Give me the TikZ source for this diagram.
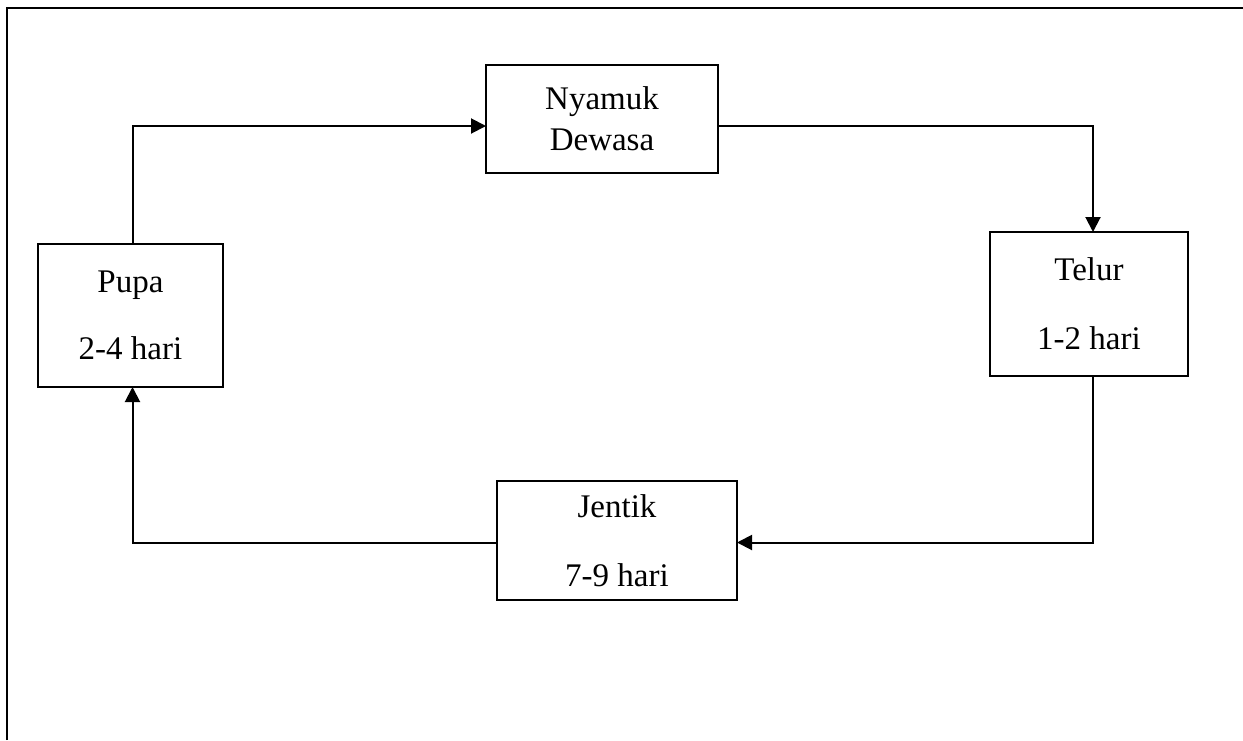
\documentclass[tikz,border=0pt]{standalone}
\usepackage{fontspec}
\setmainfont{Liberation Serif}
\usetikzlibrary{arrows.meta}

\begin{document}
\begin{tikzpicture}[x=0.5pt,y=-0.5pt,
  tahap/.style={draw,line width=1pt,inner sep=0pt,outer sep=0pt,align=center,font=\fontsize{16.5}{20.5}\selectfont},
  alur/.style={line width=1pt,-{Triangle[length=7.5pt,width=7.5pt]}}]
\useasboundingbox (0,0) rectangle (1243,740);
\draw[line width=1.3pt] (7,740) -- (7,8) -- (1243,8);
\node[tahap,minimum width=116pt,minimum height=54pt] (dewasa) at (602,119) {Nyamuk\\Dewasa};
\node[tahap,minimum width=99pt,minimum height=72pt] (telur) at (1089,304) {Telur\\[14pt]1-2 hari};
\node[tahap,minimum width=120pt,minimum height=59.5pt] (jentik) at (617,540.5) {Jentik\\[14pt]7-9 hari};
\node[tahap,minimum width=92.5pt,minimum height=71.5pt] (pupa) at (130.5,315.5) {Pupa\\[13pt]2-4 hari};
\draw[alur] ([xshift=1pt]pupa.north) |- ([yshift=-3.5pt]dewasa.west);
\draw[alur] ([yshift=-3.5pt]dewasa.east) -| ([xshift=2pt]telur.north);
\draw[alur] ([xshift=2pt]telur.south) |- ([yshift=-1pt]jentik.east);
\draw[alur] ([yshift=-1pt]jentik.west) -| ([xshift=1pt]pupa.south);
\end{tikzpicture}
\end{document}
